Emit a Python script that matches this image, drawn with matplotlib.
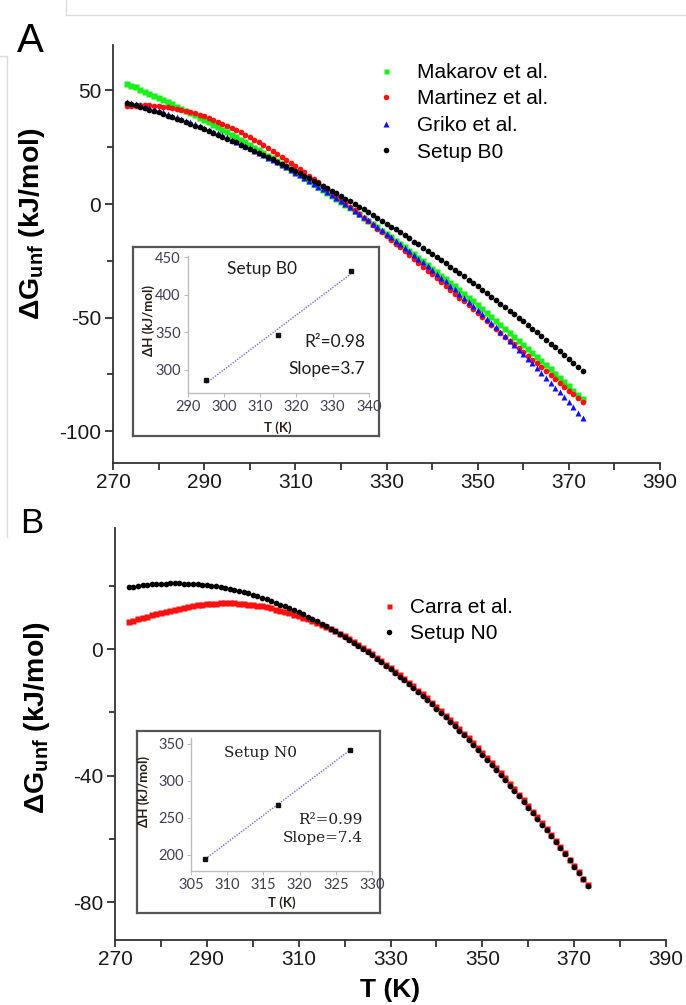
import numpy as np
import matplotlib
matplotlib.use('Agg')
import matplotlib.pyplot as plt
from matplotlib.lines import Line2D
from matplotlib.ticker import MultipleLocator

plt.rcParams['font.family'] = ['Liberation Sans', 'DejaVu Sans']
plt.rcParams['axes.unicode_minus'] = False
plt.rcParams['mathtext.fontset'] = 'custom'
plt.rcParams['mathtext.rm'] = 'Liberation Sans'
plt.rcParams['mathtext.bf'] = 'Liberation Sans:bold'
plt.rcParams['mathtext.it'] = 'Liberation Sans:italic'

# ---------------- data ----------------
T = list(range(273, 374))  # temperature (K), 1 K steps

makarov = [53.0, 52.1, 51.3, 50.4, 49.5, 48.6, 47.7, 46.7, 45.8, 44.9,
           43.9, 42.9, 42.0, 41.0, 40.0, 39.0, 37.9, 36.9, 35.9, 34.8,
           33.7, 32.7, 31.6, 30.5, 29.4, 28.2, 27.1, 26.0, 24.8, 23.7,
           22.5, 21.3, 20.1, 18.9, 17.7, 16.5, 15.2, 14.0, 12.7, 11.5,
           10.2, 8.9, 7.6, 6.3, 5.0, 3.6, 2.3, 1.0, -0.4, -1.8,
           -3.2, -4.6, -6.0, -7.4, -8.8, -10.3, -11.7, -13.2, -14.6, -16.1,
           -17.6, -19.1, -20.6, -22.2, -23.7, -25.2, -26.8, -28.4, -29.9, -31.5,
           -33.1, -34.7, -36.3, -38.0, -39.6, -41.3, -42.9, -44.6, -46.3, -48.0,
           -49.7, -51.4, -53.1, -54.9, -56.6, -58.4, -60.1, -61.9, -63.7, -65.5,
           -67.3, -69.1, -71.0, -72.8, -74.7, -76.5, -78.4, -80.3, -82.2, -84.1,
           -86.0]

martinez = [43.0, 43.2, 43.3, 43.4, 43.4, 43.4, 43.3, 43.1, 42.9, 42.6,
            42.3, 41.9, 41.5, 41.0, 40.5, 39.9, 39.3, 38.6, 37.9, 37.1,
            36.3, 35.4, 34.5, 33.6, 32.6, 31.6, 30.5, 29.4, 28.3, 27.1,
            25.9, 24.7, 23.4, 22.1, 20.8, 19.5, 18.1, 16.7, 15.3, 13.9,
            12.5, 11.0, 9.5, 8.0, 6.5, 5.0, 3.5, 2.0, 0.4, -1.2,
            -2.8, -4.4, -6.0, -7.6, -9.2, -10.8, -12.4, -14.0, -15.7, -17.4,
            -19.1, -20.8, -22.5, -24.2, -25.9, -27.6, -29.3, -31.0, -32.7, -34.4,
            -36.1, -37.8, -39.5, -41.2, -42.9, -44.6, -46.4, -48.1, -49.8, -51.5,
            -53.2, -54.9, -56.6, -58.4, -60.1, -61.8, -63.5, -65.2, -66.9, -68.6,
            -70.2, -71.9, -73.6, -75.3, -77.0, -78.7, -80.4, -82.1, -83.8, -85.5,
            -87.3]

griko = [45.0, 44.5, 43.9, 43.4, 42.8, 42.2, 41.5, 40.9, 40.3, 39.6,
         38.9, 38.2, 37.5, 36.7, 36.0, 35.2, 34.4, 33.6, 32.8, 31.9,
         31.1, 30.2, 29.3, 28.4, 27.4, 26.5, 25.5, 24.5, 23.5, 22.5,
         21.5, 20.4, 19.4, 18.3, 17.2, 16.1, 14.9, 13.8, 12.6, 11.4,
         10.2, 9.0, 7.7, 6.5, 5.2, 3.9, 2.6, 1.2, -0.1, -1.5,
         -2.9, -4.3, -5.7, -7.1, -8.6, -10.0, -11.5, -13.0, -14.5, -16.1,
         -17.6, -19.2, -20.8, -22.4, -24.0, -25.7, -27.3, -29.0, -30.7, -32.4,
         -34.1, -35.9, -37.6, -39.4, -41.2, -43.0, -44.8, -46.7, -48.6, -50.4,
         -52.3, -54.3, -56.2, -58.2, -60.1, -62.1, -64.1, -66.1, -68.2, -70.2,
         -72.3, -74.4, -76.5, -78.6, -80.8, -82.9, -85.1, -87.3, -89.5, -91.8,
         -94.0]

setup_b0 = [44.6, 44.1, 43.5, 42.9, 42.2, 41.6, 40.9, 40.3, 39.6, 38.9,
            38.2, 37.5, 36.8, 36.0, 35.3, 34.5, 33.7, 33.0, 32.1, 31.3,
            30.5, 29.7, 28.8, 27.9, 27.1, 26.2, 25.3, 24.4, 23.4, 22.5,
            21.5, 20.6, 19.6, 18.6, 17.6, 16.6, 15.6, 14.5, 13.5, 12.4,
            11.4, 10.3, 9.2, 8.1, 7.0, 5.8, 4.7, 3.5, 2.4, 1.2,
            0.0,
            -1.2, -2.4, -3.6, -4.9, -6.1, -7.4, -8.6, -9.9, -11.2, -12.5,
            -13.8, -15.1, -16.5, -17.8, -19.2, -20.6, -21.9, -23.3, -24.7, -26.1,
            -27.6, -29.0, -30.4, -31.9, -33.3, -34.8, -36.3, -37.8, -39.3, -40.8,
            -42.3, -43.9, -45.4, -47.0, -48.6, -50.1, -51.7, -53.3, -54.9, -56.5,
            -58.2, -59.8, -61.5, -63.1, -64.8, -66.5, -68.2, -69.9, -71.6, -73.3]

carra = [8.5, 9.0, 9.4, 9.9, 10.3, 10.7, 11.1, 11.5, 11.8, 12.2,
         12.5, 12.8, 13.1, 13.4, 13.6, 13.8, 14.0, 14.2, 14.3, 14.4,
         14.5, 14.5, 14.5, 14.5, 14.4, 14.3, 14.1, 13.9, 13.7, 13.5,
         13.2, 12.9, 12.5, 12.2, 11.8, 11.4, 10.9, 10.4, 9.9, 9.4,
         8.8, 8.2, 7.6, 7.0, 6.3, 5.6, 4.8, 4.0, 3.1, 2.2,
         1.3, 0.3, -0.7, -1.7, -2.8, -3.8, -4.9, -6.0, -7.1, -8.3,
         -9.4, -10.6, -11.8, -13.1, -14.3, -15.6, -16.9, -18.3, -19.6, -21.0,
         -22.4, -23.8, -25.3, -26.7, -28.2, -29.7, -31.3, -32.9, -34.4, -36.0,
         -37.6, -39.3, -40.9, -42.6, -44.3, -46.0, -47.8, -49.6, -51.4, -53.2,
         -55.0, -56.9, -58.8, -60.7, -62.6, -64.6, -66.6, -68.6, -70.6, -72.6,
         -74.6]

setup_n0 = [19.5, 19.7, 20.0, 20.2, 20.3, 20.5, 20.6, 20.7, 20.7, 20.8,
            20.8, 20.8, 20.7, 20.7, 20.6, 20.5, 20.3, 20.2, 20.0, 19.8,
            19.5, 19.3, 19.0, 18.7, 18.3, 18.0, 17.6, 17.1, 16.7, 16.2,
            15.8, 15.2, 14.7, 14.1, 13.6, 13.0, 12.3, 11.7, 11.0, 10.3,
            9.6, 8.8, 8.0, 7.2, 6.4, 5.6, 4.7, 3.8, 2.9, 1.9,
            1.0, 0.0, -1.0, -2.0, -3.1, -4.2, -5.3, -6.4, -7.5, -8.7,
            -9.9, -11.1, -12.3, -13.6, -14.8, -16.1, -17.5, -18.8, -20.2, -21.5,
            -23.0, -24.4, -25.8, -27.3, -28.8, -30.3, -31.8, -33.4, -35.0, -36.6,
            -38.2, -39.8, -41.5, -43.2, -44.9, -46.6, -48.3, -50.1, -51.9, -53.7,
            -55.5, -57.3, -59.2, -61.1, -63.0, -64.9, -66.8, -68.8, -70.8, -72.8,
            -74.8]

# inset data (dH vs T)
ins_T_b0 = [295, 315, 335]
ins_H_b0 = [286, 346, 432]
ins_T_n0 = [307, 317, 327]
ins_H_n0 = [195, 268, 342]

labels_A = ['Makarov et al.', 'Martinez et al.', 'Griko et al.', 'Setup B0']
labels_B = ['Carra et al.', 'Setup N0']
inset_A_txt = ['Setup B0', 'R²=0.98', 'Slope=3.7']
inset_B_txt = ['Setup N0', 'R²=0.99', 'Slope=7.4']

GREEN = '#19ef19'
RED = '#ff1010'
BLUE = '#1010ff'
BLACK = '#000000'

W, H = 686, 1005
fig = plt.figure(figsize=(W / 100, H / 100), dpi=100)


def fx(px):
    return px / W


def fy(py):
    return 1 - py / H


def rect(l, t, r, b):
    return [fx(l), fy(b), fx(r) - fx(l), fy(t) - fy(b)]


axA = fig.add_axes(rect(113, 45, 660, 463))
axB = fig.add_axes(rect(115, 528, 666, 940))

ms = 3.7
axA.plot(T, makarov, ls='none', marker='s', ms=ms, color=GREEN, mec='none', zorder=3)
axA.plot(T, martinez, ls='none', marker='o', ms=ms + 0.4, color=RED, mec='none', zorder=4)
axA.plot(T, griko, ls='none', marker='^', ms=ms + 0.6, color=BLUE, mec='none', zorder=5)
axA.plot(T, setup_b0, ls='none', marker='o', ms=ms + 0.4, color=BLACK, mec='none', zorder=6)

axB.plot(T, carra, ls='none', marker='s', ms=ms, color=RED, mec='none', zorder=3)
axB.plot(T, setup_n0, ls='none', marker='o', ms=ms + 0.4, color=BLACK, mec='none', zorder=4)


def style_main(ax, ylim, yticks, yminor):
    ax.set_xlim(270, 390)
    ax.set_xticks(range(270, 391, 20))
    ax.xaxis.set_minor_locator(MultipleLocator(10))
    ax.set_ylim(*ylim)
    ax.set_yticks(yticks)
    ax.yaxis.set_minor_locator(MultipleLocator(yminor))
    for s in ['top', 'right']:
        ax.spines[s].set_visible(False)
    for s in ['left', 'bottom']:
        ax.spines[s].set_color('#333333')
        ax.spines[s].set_linewidth(1.3)
    ax.tick_params(which='both', direction='out', color='#333333', width=1.3,
                   labelsize=15, labelcolor='#1a1a1a')
    ax.tick_params(axis='x', which='both', length=5, pad=2)
    ax.tick_params(axis='y', which='major', length=6, pad=2.5)
    ax.tick_params(axis='y', which='minor', length=4.5)


style_main(axA, (-114, 70), [-100, -50, 0, 50], 25)
style_main(axB, (-92, 38.3), [-80, -40, 0], 20)

ylab = r'$\mathbf{\Delta G_{unf}}$ (kJ/mol)'
axA.set_ylabel(ylab, fontsize=20.5, fontweight='bold')
axA.yaxis.set_label_coords(-0.148, 0.572)
axA.yaxis.label.set_va('center')
axB.set_ylabel(ylab, fontsize=20.5, fontweight='bold')
axB.yaxis.set_label_coords(-0.141, 0.54)
axB.yaxis.label.set_va('center')
axB.set_xlabel('T (K)', fontsize=19, fontweight='bold')
axB.xaxis.label.set_va('center')
axB.xaxis.set_label_coords(0.5, -0.121)

# legends
hA = [Line2D([], [], ls='none', marker='s', ms=3.6, color=GREEN, mec='none'),
      Line2D([], [], ls='none', marker='o', ms=4.0, color=RED, mec='none'),
      Line2D([], [], ls='none', marker='^', ms=4.2, color=BLUE, mec='none'),
      Line2D([], [], ls='none', marker='o', ms=4.0, color=BLACK, mec='none')]
axA.legend(hA, labels_A, loc='upper left', bbox_to_anchor=(fx(377.5), fy(63)),
           bbox_transform=fig.transFigure, frameon=False, fontsize=15,
           handlelength=0.8, handletextpad=1.1, labelspacing=0.36,
           borderpad=0, borderaxespad=0)
hB = [Line2D([], [], ls='none', marker='s', ms=3.6, color=RED, mec='none'),
      Line2D([], [], ls='none', marker='o', ms=4.0, color=BLACK, mec='none')]
axB.legend(hB, labels_B, loc='upper left', bbox_to_anchor=(fx(381), fy(598)),
           bbox_transform=fig.transFigure, frameon=False, fontsize=15,
           handlelength=0.8, handletextpad=0.6, labelspacing=0.33,
           borderpad=0, borderaxespad=0)

# panel letters
fig.text(fx(17), fy(52), 'A', fontsize=29, ha='left', va='baseline')
fig.text(fx(20), fy(533), 'B', fontsize=25, ha='left', va='baseline')

# screenshot frame artefacts
art = '#dcdcdc'
fig.add_artist(Line2D([fx(66), 1], [fy(15), fy(15)], color=art, lw=1))
fig.add_artist(Line2D([fx(66), fx(66)], [1, fy(15)], color=art, lw=1))
fig.add_artist(Line2D([fx(7), fx(7)], [fy(56), fy(537)], color=art, lw=1))
fig.add_artist(Line2D([0, fx(7)], [fy(56), fy(56)], color=art, lw=1))


# insets
def make_inset(frame_box, ax_box, xs, ys, xlim, ylim, xticks, yticks, txts,
               txt_font, txt_size, pos_title, pos_r2, pos_slope, ylab_pos, xlab_pos):
    fr = fig.add_axes(rect(*frame_box), zorder=5)
    fr.set_xticks([])
    fr.set_yticks([])
    for s in fr.spines.values():
        s.set_color('#555555')
        s.set_linewidth(1.6)
    ax = fig.add_axes(rect(*ax_box), zorder=6)
    ax.patch.set_alpha(0)
    ax.plot(xs, ys, ls='none', marker='s', ms=2.3, color='#111111', zorder=4)
    coef = np.polyfit(xs, ys, 1)
    xx = np.array([xs[0], xs[-1]], dtype=float)
    ax.plot(xx, np.polyval(coef, xx), ls=(0, (1, 1)), lw=1.0, color='#6f6fe0', zorder=3)
    ax.set_xlim(*xlim)
    ax.set_ylim(*ylim)
    ax.set_xticks(xticks)
    ax.set_yticks(yticks)
    for s in ['top', 'right']:
        ax.spines[s].set_visible(False)
    for s in ['left', 'bottom']:
        ax.spines[s].set_color('#bdbdbd')
        ax.spines[s].set_linewidth(1.0)
    ax.tick_params(which='both', direction='out', color='#bdbdbd', length=3,
                   labelsize=10.5, labelcolor='#3e3e52', pad=2.2)
    for lab in ax.get_xticklabels() + ax.get_yticklabels():
        lab.set_fontfamily(['Lato', 'DejaVu Sans'])
    ax.text(*pos_title, txts[0], transform=ax.transAxes, ha='center', va='center',
            fontsize=txt_size, family=txt_font, color='#1e1e1e')
    ax.text(*pos_r2, txts[1], transform=ax.transAxes, ha='right', va='center',
            fontsize=txt_size, family=txt_font, color='#1e1e1e')
    ax.text(*pos_slope, txts[2], transform=ax.transAxes, ha='right', va='center',
            fontsize=txt_size, family=txt_font, color='#1e1e1e')
    ax.text(*ylab_pos, 'ΔH (kJ/mol)', transform=ax.transAxes, ha='center', va='center',
            rotation=90, fontsize=9.5, fontweight='bold', family=['Lato', 'DejaVu Sans'],
            color='#2a1e14')
    ax.text(*xlab_pos, 'T (K)', transform=ax.transAxes, ha='center', va='center',
            fontsize=9.5, fontweight='bold', family=['Lato', 'DejaVu Sans'], color='#2a1e14')
    return ax


make_inset((133, 247, 379, 436), (188, 255.8, 368.7, 392.7), ins_T_b0, ins_H_b0,
           (290, 340), (269, 452), [290, 300, 310, 320, 330, 340], [300, 350, 400, 450],
           inset_A_txt, ['Lato', 'DejaVu Sans'], 12.5,
           (0.407, 0.904), (0.98, 0.37), (0.98, 0.175), (-0.215, 0.531), (0.498, -0.255))

make_inset((137, 731, 380, 913), (191, 738, 372, 870.5), ins_T_n0, ins_H_n0,
           (305, 330), (179, 358), [305, 310, 315, 320, 325, 330], [200, 250, 300, 350],
           inset_B_txt, ['DejaVu Serif'], 11,
           (0.382, 0.887), (0.95, 0.381), (0.95, 0.245), (-0.262, 0.60), (0.503, -0.24))

fig.savefig('out.png', dpi=100)
